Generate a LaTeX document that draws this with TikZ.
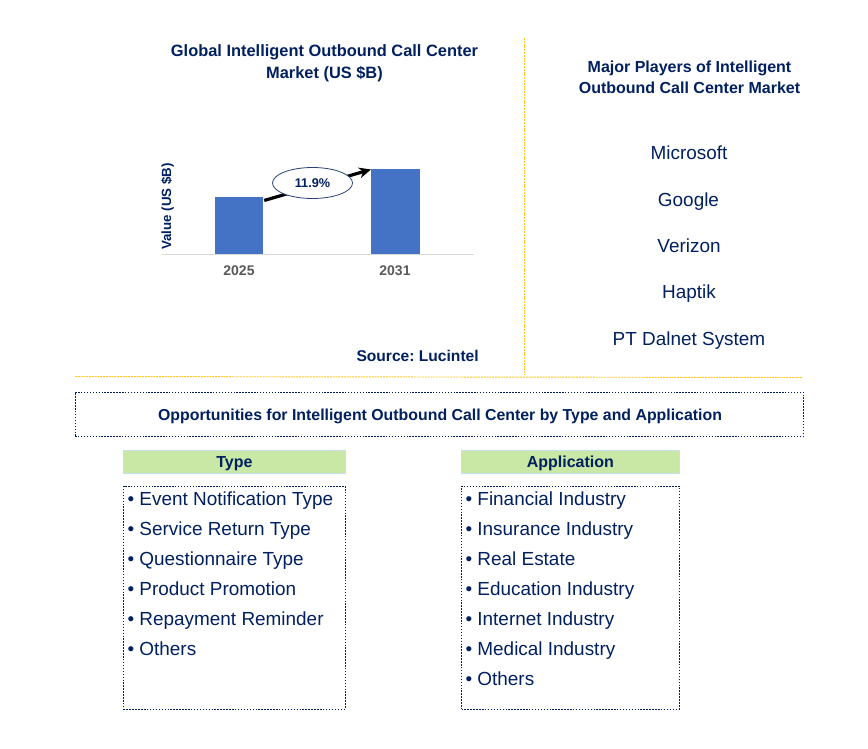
\documentclass[tikz,border=0pt]{standalone}
\usepackage{fontspec}
\setmainfont{Liberation Sans}
\usetikzlibrary{arrows.meta,shapes.geometric}
\frenchspacing
\definecolor{navy}{HTML}{002060}
\definecolor{barblue}{HTML}{4472C4}
\definecolor{gold}{HTML}{FFC000}
\definecolor{hdr}{HTML}{C9E7A5}
\definecolor{hdredge}{HTML}{C5E0F0}
\definecolor{axisgray}{HTML}{D9D9D9}
\definecolor{yeargray}{HTML}{595959}
\tikzset{
  x=0.75pt,y=-0.75pt,
  txt/.style={inner sep=0pt,text=navy,font=\fontsize{12}{15.75}\selectfont\bfseries,align=center},
  player/.style={inner sep=0pt,text=navy,anchor=base,font=\fontsize{14.2}{16}\selectfont},
  item/.style={inner sep=0pt,text=navy,anchor=base west,font=\fontsize{14.2}{16}\selectfont},
  dotbox/.style={draw=navy,dash pattern=on 1.1pt off 1.1pt,line width=0.8pt,fill=none,inner sep=0pt},
  head/.style={draw=hdredge,fill=hdr,line width=0.6pt,inner sep=0pt,text=navy,text height=10.3pt,text depth=2pt,font=\fontsize{12}{14}\selectfont\bfseries},
  bar/.style={fill=barblue,draw=none,inner sep=0pt},
  year/.style={inner sep=0pt,text=yeargray,font=\fontsize{10.5}{12}\selectfont\bfseries},
  guide/.style={draw=gold!85!white,dash pattern=on 1.5pt off 0.6pt,line width=0.7pt},
}
\newcommand{\boxat}[5]{\node[#5,minimum width=#3*0.75pt,minimum height=#4*0.75pt,anchor=north west] (#1) at #2 {};}
\begin{document}
\begin{tikzpicture}
\useasboundingbox (0,0) rectangle (868,749);
\fill[white] (0,0) rectangle (868,749);
% guides
\coordinate (v1) at (524.5,38); \coordinate (v2) at (524.5,375);
\coordinate (h1) at (75,376.5); \coordinate (h2) at (803,377.5);
\draw[guide] (v1) -- (v2);
\draw[guide] (h1) -- (h2);
% titles
\node[txt,font=\fontsize{12.3}{16.5}\selectfont\bfseries] (title) at (324.5,63) {Global Intelligent Outbound Call Center\\Market (US \$B)};
\node[txt] (players) at (689.5,77.5) {Major Players of Intelligent\\Outbound Call Center Market};
% chart
\node[bar,minimum width=48pt*0.75,minimum height=57pt*0.75,anchor=south west] (b1) at (215,254) {};
\node[bar,minimum width=49pt*0.75,minimum height=85pt*0.75,anchor=south west] (b2) at (371,254) {};
\coordinate (ax1) at (162,254.3); \coordinate (ax2) at (474,254.3);
\draw[axisgray,line width=0.7pt] (ax1) -- (ax2);
\draw[-{Stealth[length=9pt,width=8pt]},line width=2.4pt,black] ([xshift=0.5pt,yshift=-3pt]b1.north east) -- ([yshift=-0.75pt]b2.north west);
\node[ellipse,draw=navy!85!white,fill=white,line width=0.6pt,minimum width=80pt*0.75,minimum height=31pt*0.75,inner sep=0pt,text=navy,font=\fontsize{9.5}{11}\selectfont\bfseries] (cagr) at (312.5,183) {11.9\%};
\node[year] (y1) at (239,271) {2025};
\node[year] (y2) at (395,271) {2031};
\node[inner sep=0pt,rotate=90,text=navy,font=\fontsize{10}{11}\selectfont\bfseries] (yl) at (167.5,206.5) {Value (US \$B)};
\node[inner sep=0pt,text=navy,font=\fontsize{11.7}{14}\selectfont\bfseries,anchor=east] (src) at (479,355.5) {Source: Lucintel};
% players
\node[player] (p1) at (689,159.5) {Microsoft};
\node[player] (p2) at (688.5,206) {Google};
\node[player] (p3) at (689,252) {Verizon};
\node[player] (p4) at (689,298) {Haptik};
\node[player] (p5) at (689,345) {PT Dalnet System};
% banner
\boxat{banner}{(74.5,391.5)}{728}{44.5}{dotbox}
\node[txt,font=\fontsize{11.9}{14}\selectfont\bfseries] (bannertext) at (440,416) {Opportunities for Intelligent Outbound Call Center by Type and Application};
% headers
\node[head,minimum width=222pt*0.75,minimum height=23pt*0.75,anchor=north west] (th) at (123,450) {Type};
\node[head,minimum width=218pt*0.75,minimum height=23pt*0.75,anchor=north west] (ah) at (461,450) {Application};
% list boxes
\boxat{tb}{(123,485.5)}{221.5}{223}{dotbox}
\boxat{ab}{(461,485.5)}{217.5}{223}{dotbox}
% type list
\node[item] (t1) at (127.3,505) {• Event Notification Type};
\node[item] (t2) at (127.3,535) {• Service Return Type};
\node[item] (t3) at (127.3,565) {• Questionnaire Type};
\node[item] (t4) at (127.3,595) {• Product Promotion};
\node[item] (t5) at (127.3,625) {• Repayment Reminder};
\node[item] (t6) at (127.3,655) {• Others};
% application list
\node[item] (a1) at (465.3,505) {• Financial Industry};
\node[item] (a2) at (465.3,535) {• Insurance Industry};
\node[item] (a3) at (465.3,565) {• Real Estate};
\node[item] (a4) at (465.3,595) {• Education Industry};
\node[item] (a5) at (465.3,625) {• Internet Industry};
\node[item] (a6) at (465.3,655) {• Medical Industry};
\node[item] (a7) at (465.3,685) {• Others};
\end{tikzpicture}
\end{document}
